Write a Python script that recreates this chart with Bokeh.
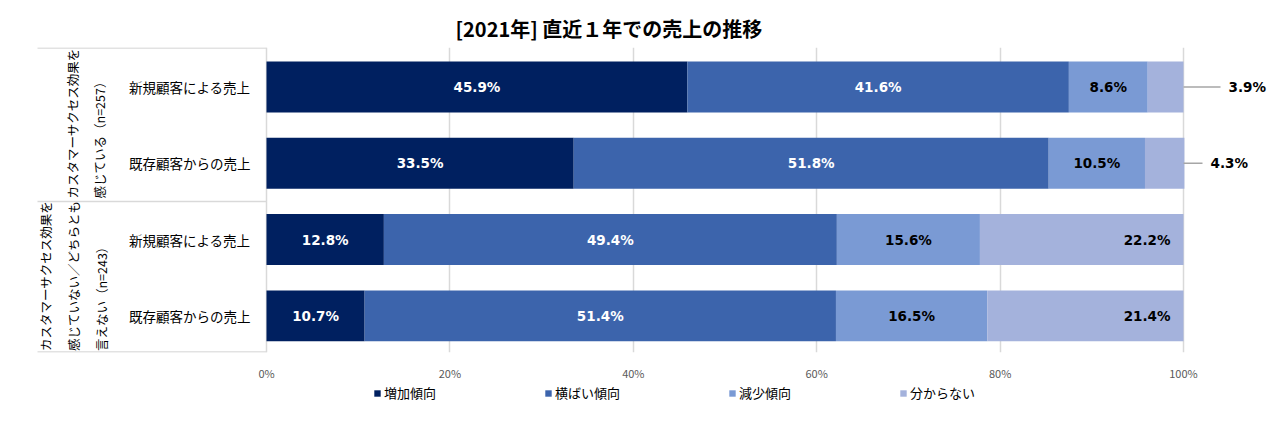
from bokeh.plotting import figure
from bokeh.models import ColumnDataSource, Range1d, FixedTicker, Legend, LegendItem
from bokeh.layouts import column
from bokeh.core.properties import value
from bokeh.embed import file_html
from bokeh.resources import INLINE
import math

# ---------------- data ----------------
title_text = "[2021年] 直近１年での売上の推移"
categories = ["新規顧客による売上", "既存顧客からの売上", "新規顧客による売上", "既存顧客からの売上"]
group_labels = ["カスタマーサクセス効果を\n感じている（n=257）",
                "カスタマーサクセス効果を\n感じていない／どちらとも\n言えない（n=243）"]
group_sizes = [2, 2]
series_names = ["増加傾向", "横ばい傾向", "減少傾向", "分からない"]
increase = [45.9, 33.5, 12.8, 10.7]
flat = [41.6, 51.8, 49.4, 51.4]
decrease = [8.6, 10.5, 15.6, 16.5]
unknown = [3.9, 4.3, 22.2, 21.4]
tick_values = [0, 20, 40, 60, 80, 100]
tick_labels = ["0%", "20%", "40%", "60%", "80%", "100%"]

# ---------------- style ----------------
colors = ["#002060", "#3C64AC", "#7A9AD4", "#A4B2DC"]
label_colors = ["white", "white", "black", "black"]
W, H = 1267, 383
LEG_H = 30
ZERO_PX, FULL_PX = 266, 917
TOP_PX, BOTTOM_PX = 47, 31
TABLE_LEFT_PX = 37
PXU = FULL_PX / 100.0
ROW_PX = (H - TOP_PX - BOTTOM_PX) / 3.998
lead_px = [37, 19, 0, 0]
JP = "Noto Sans CJK JP"

n = len(categories)
ys = [n - 1 - i for i in range(n)]
series = [increase, flat, decrease, unknown]
keys = ["s0", "s1", "s2", "s3"]

src = ColumnDataSource(dict(y=ys, **{k: v for k, v in zip(keys, series)}))

x_start = -ZERO_PX / PXU
x_end = (W - ZERO_PX) / PXU

p = figure(width=W, height=H, output_backend="svg", toolbar_location=None,
           x_range=Range1d(x_start, x_end), y_range=Range1d(-0.48, 3.518),
           min_border_left=0, min_border_right=0,
           min_border_top=TOP_PX, min_border_bottom=BOTTOM_PX)
p.yaxis.visible = False
p.outline_line_color = None
p.title.text = title_text
p.title.align = "left"
p.title.offset = 455
p.title.text_font = JP
p.title.text_font_size = "20px"
p.title.text_font_style = "bold"
p.title.text_color = "#000000"

renderers = p.hbar_stack(keys, y="y", height=0.668, color=colors, line_color=None, source=src)

p.xaxis.ticker = FixedTicker(ticks=tick_values)
p.xaxis.major_label_overrides = {t: l for t, l in zip(tick_values, tick_labels)}
p.xaxis.axis_line_color = None
p.xaxis.major_tick_line_color = None
p.xaxis.minor_tick_line_color = None
p.xaxis.major_label_standoff = 6
p.xaxis.major_label_text_font = JP
p.xaxis.major_label_text_font_size = "11px"
p.xaxis.major_label_text_color = "#595959"
p.xgrid.ticker = FixedTicker(ticks=tick_values)
p.xgrid.grid_line_color = "#D9D9D9"
p.xgrid.grid_line_width = 1.5
p.ygrid.visible = False

lx, ly, lt, lc, la = [], [], [], [], []
seg_x0, seg_x1, seg_y = [], [], []
for i in range(n):
    cum = 0.0
    for s in range(4):
        v = series[s][i]
        txt = f"{v:.1f}%"
        if s < 3:
            lx.append(cum + v / 2); la.append("center")
        elif v >= 5:
            lx.append(100 - 13 / PXU); la.append("right")
        else:
            seg_x0.append(100); seg_x1.append(100 + lead_px[i] / PXU); seg_y.append(ys[i])
            lx.append(100 + (lead_px[i] + 8) / PXU); la.append("left")
        ly.append(ys[i]); lt.append(txt); lc.append(label_colors[s])
        cum += v

p.segment(x0=seg_x0, x1=seg_x1, y0=seg_y, y1=seg_y, line_color="#A6A6A6", line_width=1.5)
lsrc = ColumnDataSource(dict(x=lx, y=ly, text=lt, color=lc, align=la))
p.text(x="x", y="y", text="text", text_color="color", text_align="align", source=lsrc,
       text_baseline="middle", text_font=value("DejaVu Sans"), text_font_style="bold",
       text_font_size="13.5px")

p.text(x=[-16 / PXU] * n, y=ys, text=categories, text_align="right", text_baseline="middle",
       text_font=value(JP), text_font_size="13.5px", text_color="#000000")

tl = -(ZERO_PX - TABLE_LEFT_PX) / PXU
bounds = [3.518 - 0.008]
pos = 0
for g in group_sizes:
    pos += g
    bounds.append(n - pos - 0.5)
bounds[-1] = -0.48 + 0.008
p.segment(x0=[tl] * len(bounds), x1=[0] * len(bounds), y0=bounds, y1=bounds,
          line_color="#D9D9D9", line_width=1.5)

gx, gy = [], []
pos = 0
for gi, g in enumerate(group_sizes):
    nlines = group_labels[gi].count("\n") + 1
    bottom_y = n - (pos + g) - 0.5
    gy.append(bottom_y + 3 / ROW_PX)
    right_line_px = ZERO_PX - 168
    center_px = right_line_px - (nlines - 1) * 25 / 2
    gx.append(-(ZERO_PX - center_px) / PXU)
    pos += g
p.text(x=gx, y=gy, text=group_labels, angle=math.pi / 2, text_align="left",
       text_baseline="middle", text_font=value(JP), text_font_size="12.5px",
       text_line_height=1.45, text_color="#000000")

# ---------------- legend strip ----------------
p2 = figure(width=W, height=LEG_H, output_backend="svg", toolbar_location=None,
            x_range=Range1d(0, 1), y_range=Range1d(0, 1),
            min_border_left=0, min_border_right=0, min_border_top=0, min_border_bottom=0)
p2.axis.visible = False
p2.grid.visible = False
p2.outline_line_color = None
# placeholder bars kept outside the visible range: only their legend swatches show
leg_renderers = [p2.hbar(y=[-10], left=[0], right=[1], height=0.5, color=c, line_color=None)
                 for c in colors]
legend = Legend(items=[LegendItem(label=nm, renderers=[r]) for nm, r in zip(series_names, leg_renderers)],
                orientation="horizontal", location=(373, 11), spacing=108,
                glyph_width=8, glyph_height=8, label_standoff=3, padding=0, margin=0,
                border_line_color=None, background_fill_alpha=0,
                label_text_font=JP, label_text_font_size="13px", label_text_color="#000000")
p2.add_layout(legend)

layout = column(p, p2, spacing=0)
open("out.html", "w").write(file_html(layout, INLINE))
